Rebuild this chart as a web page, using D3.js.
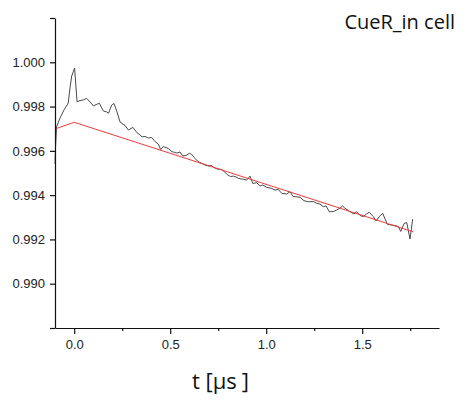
<!DOCTYPE html>
<html>
<head>
<meta charset="utf-8">
<script src="https://cdn.jsdelivr.net/npm/d3@7"></script>
<style>
  body { margin: 0; background: #fff; }
  .tick text { font-family: "Liberation Sans", Arial, sans-serif; font-size: 13px; fill: #222; }
</style>
</head>
<body>
<div id="chart"></div>
<script>
// measured trace (t in microseconds, normalised echo)
var traceT = [-0.100, -0.098, -0.092, -0.074, -0.053, -0.031, -0.022, -0.013, 0.002, 0.015,
    0.030, 0.047, 0.065, 0.082, 0.100, 0.114, 0.131, 0.152, 0.169, 0.179,
    0.195, 0.207, 0.223, 0.239, 0.254, 0.265, 0.282, 0.296, 0.306, 0.326,
    0.343, 0.353, 0.369, 0.386, 0.404, 0.421, 0.438, 0.450, 0.464, 0.478,
    0.490, 0.508, 0.522, 0.535, 0.551, 0.565, 0.582, 0.600, 0.612, 0.629,
    0.646, 0.664, 0.681, 0.698, 0.716, 0.725, 0.745, 0.768, 0.780, 0.797,
    0.814, 0.829, 0.843, 0.855, 0.869, 0.881, 0.898, 0.916, 0.930, 0.951,
    0.968, 0.982, 1.003, 1.015, 1.029, 1.046, 1.063, 1.081, 1.107, 1.124,
    1.140, 1.155, 1.176, 1.197, 1.219, 1.245, 1.263, 1.280, 1.297, 1.312,
    1.329, 1.350, 1.367, 1.384, 1.398, 1.410, 1.428, 1.445, 1.457, 1.471,
    1.489, 1.506, 1.523, 1.537, 1.558, 1.572, 1.589, 1.607, 1.619, 1.631,
    1.654, 1.676, 1.688, 1.701, 1.718, 1.732, 1.749, 1.763];
var traceV = [0.99541, 0.99604, 0.99708, 0.99748, 0.99785, 0.99816, 0.99884, 0.99938, 0.99974, 0.99821,
    0.99827, 0.99830, 0.99837, 0.99821, 0.99803, 0.99809, 0.99815, 0.99780, 0.99776, 0.99770,
    0.99807, 0.99814, 0.99776, 0.99730, 0.99721, 0.99715, 0.99694, 0.99701, 0.99706, 0.99683,
    0.99672, 0.99663, 0.99665, 0.99658, 0.99660, 0.99642, 0.99631, 0.99606, 0.99619, 0.99615,
    0.99611, 0.99597, 0.99593, 0.99590, 0.99595, 0.99577, 0.99579, 0.99589, 0.99584, 0.99566,
    0.99551, 0.99544, 0.99536, 0.99532, 0.99534, 0.99526, 0.99518, 0.99516, 0.99507, 0.99493,
    0.99484, 0.99486, 0.99482, 0.99476, 0.99473, 0.99472, 0.99468, 0.99486, 0.99453, 0.99456,
    0.99441, 0.99446, 0.99435, 0.99433, 0.99430, 0.99423, 0.99426, 0.99408, 0.99405, 0.99416,
    0.99394, 0.99393, 0.99390, 0.99375, 0.99370, 0.99371, 0.99363, 0.99360, 0.99348, 0.99351,
    0.99325, 0.99326, 0.99333, 0.99341, 0.99351, 0.99341, 0.99330, 0.99321, 0.99315, 0.99325,
    0.99308, 0.99303, 0.99315, 0.99323, 0.99303, 0.99283, 0.99303, 0.99318, 0.99292, 0.99268,
    0.99265, 0.99262, 0.99258, 0.99236, 0.99272, 0.99276, 0.99202, 0.99292];

// background fit
var fitT = [-0.100, 0.000, 1.766];
var fitV = [0.99699, 0.99729, 0.99234];

var yTicks = [0.988, 0.990, 0.992, 0.994, 0.996, 0.998, 1.000, 1.002];
var yLabeled = [0.990, 0.992, 0.994, 0.996, 0.998, 1.000];
var xMajor = [0.0, 0.5, 1.0, 1.5];
var xMinor = [0.25, 0.75, 1.25, 1.75];

var width = 463, height = 405;
var margin = { top: 18, right: 24, bottom: 77, left: 55 };

var svg = d3.select("#chart").append("svg")
    .attr("width", width)
    .attr("height", height);

var x = d3.scaleLinear().domain([-0.1, 1.9]).range([margin.left, width - margin.right]);
var y = d3.scaleLinear().domain([0.988, 1.002]).range([height - margin.bottom, margin.top]);

var trace = traceT.map(function (t, i) { return [t, traceV[i]]; });
var fit = fitT.map(function (t, i) { return [t, fitV[i]]; });

var line = d3.line()
    .x(function (d) { return x(d[0]); })
    .y(function (d) { return y(d[1]); });

svg.append("path")
    .datum(trace)
    .attr("d", line)
    .attr("fill", "none")
    .attr("stroke", "#4a4a4a")
    .attr("stroke-width", 1);

svg.append("path")
    .datum(fit)
    .attr("d", line)
    .attr("fill", "none")
    .attr("stroke", "#f03c3c")
    .attr("stroke-width", 1);

// y axis
var yAxis = d3.axisLeft(y)
    .tickValues(yTicks)
    .tickSize(5)
    .tickSizeOuter(0)
    .tickPadding(5)
    .tickFormat(function (d) { return yLabeled.indexOf(d) >= 0 ? d3.format(".3f")(d) : ""; });

var gy = svg.append("g")
    .attr("transform", "translate(" + margin.left + ",0)")
    .call(yAxis);

// x axis, minor ticks first
svg.append("g")
    .attr("transform", "translate(0," + (height - margin.bottom) + ")")
    .call(d3.axisBottom(x).tickValues(xMinor).tickSize(3).tickSizeOuter(0).tickFormat(""))
    .select(".domain").remove();

var gx = svg.append("g")
    .attr("transform", "translate(0," + (height - margin.bottom) + ")")
    .call(d3.axisBottom(x).tickValues(xMajor).tickSize(6).tickSizeOuter(0).tickPadding(6)
        .tickFormat(d3.format(".1f")));

svg.selectAll(".domain, .tick line")
    .attr("stroke", "#111")
    .attr("stroke-width", 1.2);

svg.append("text")
    .attr("x", 455)
    .attr("y", 29)
    .attr("text-anchor", "end")
    .style("font-family", "'Open Sans', sans-serif")
    .style("font-size", "20px")
    .attr("fill", "#111")
    .text("CueR_in cell");

var xl = svg.append("text")
    .attr("x", 192)
    .attr("y", 389)
    .style("font-family", "'Open Sans', sans-serif")
    .style("font-size", "22px")
    .attr("fill", "#111");
xl.append("tspan").text("t [μs");
xl.append("tspan").attr("dx", 5).text("]");
</script>
</body>
</html>
